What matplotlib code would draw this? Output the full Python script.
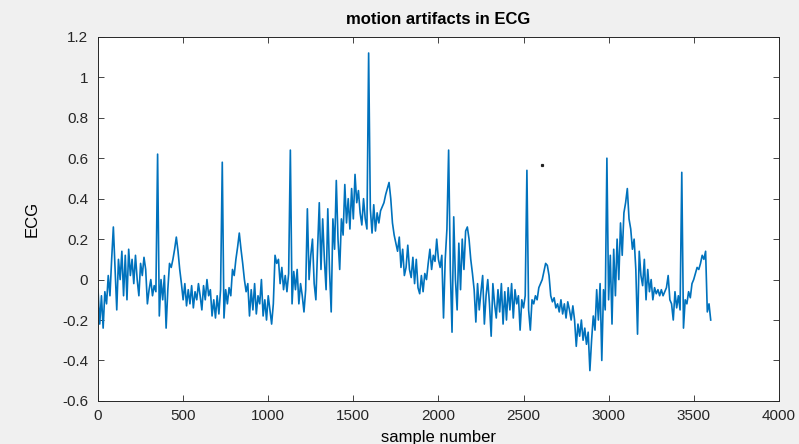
import numpy as np
import matplotlib
matplotlib.use("Agg")
import matplotlib.pyplot as plt
from matplotlib.ticker import FixedLocator, FixedFormatter

# ECG values, one every 10 samples (sample 0 .. 3600)
ecg_values = [
    # 0-90
    -0.05, -0.22, -0.08, -0.24, -0.06, -0.12, 0.02, -0.08, 0.10, 0.26,
    # 100-190
    0.05, -0.15, 0.10, 0.00, 0.14, -0.08, 0.12, -0.10, 0.15, 0.02,
    # 200-290
    0.10, -0.02, 0.12, 0.00, -0.08, 0.08, 0.02, 0.11, 0.05, -0.12,
    # 300-390
    -0.05, 0.00, -0.08, -0.03, -0.06, 0.62, -0.18, 0.00, -0.10, 0.02,
    # 400-490
    -0.24, -0.05, 0.08, 0.06, 0.10, 0.15, 0.21, 0.14, 0.05, -0.02,
    # 500-590
    -0.10, -0.02, -0.13, -0.05, -0.12, -0.03, -0.14, -0.06, -0.10, -0.02,
    # 600-690
    -0.08, -0.15, -0.03, -0.10, 0.00, -0.08, -0.05, -0.18, -0.10, -0.19,
    # 700-790
    -0.08, -0.17, -0.05, 0.58, -0.19, -0.05, -0.12, -0.04, -0.08, 0.05,
    # 800-890
    0.02, 0.10, 0.16, 0.23, 0.15, 0.08, 0.00, -0.06, -0.02, -0.18,
    # 900-990
    -0.05, -0.15, -0.02, -0.17, -0.08, -0.12, 0.00, -0.18, -0.10, -0.20,
    # 1000-1090
    -0.08, -0.15, -0.22, -0.12, 0.12, 0.08, 0.10, -0.02, 0.06, -0.05,
    # 1100-1190
    0.02, -0.06, 0.03, 0.64, -0.12, 0.04, -0.05, 0.05, -0.12, -0.02,
    # 1200-1290
    -0.08, -0.16, -0.05, 0.35, 0.00, 0.12, 0.20, -0.02, -0.10, 0.15,
    # 1300-1390
    0.38, 0.05, 0.30, 0.10, -0.05, 0.35, 0.05, -0.16, 0.30, 0.15,
    # 1400-1490
    0.49, 0.20, 0.05, 0.30, 0.22, 0.47, 0.28, 0.40, 0.25, 0.45,
    # 1500-1590
    0.30, 0.52, 0.38, 0.44, 0.33, 0.27, 0.40, 0.30, 0.25, 1.12,
    # 1600-1690
    0.35, 0.23, 0.37, 0.24, 0.33, 0.28, 0.34, 0.36, 0.38, 0.42,
    # 1700-1790
    0.45, 0.48, 0.40, 0.28, 0.22, 0.18, 0.14, 0.21, 0.06, 0.15,
    # 1800-1890
    0.02, 0.06, 0.17, 0.05, 0.01, 0.11, -0.02, 0.10, -0.04, -0.07,
    # 1900-1990
    0.02, -0.06, 0.03, 0.00, 0.08, 0.15, 0.05, 0.12, 0.09, 0.20,
    # 2000-2090
    0.10, 0.06, 0.12, -0.19, 0.10, 0.25, 0.64, 0.05, -0.26, 0.31,
    # 2100-2190
    0.00, -0.15, 0.18, -0.05, 0.20, 0.05, 0.24, 0.26, 0.20, 0.10,
    # 2200-2290
    0.03, -0.05, -0.21, -0.02, -0.15, -0.06, 0.02, -0.22, -0.08, 0.00,
    # 2300-2390
    -0.12, -0.28, -0.02, -0.12, -0.19, -0.05, -0.16, -0.02, -0.22, -0.06,
    # 2400-2490
    -0.20, -0.04, -0.15, -0.02, -0.19, -0.05, -0.12, -0.08, -0.25, -0.10,
    # 2500-2590
    -0.14, -0.08, 0.54, -0.15, -0.25, -0.10, -0.12, -0.08, -0.10, -0.04,
    # 2600-2690
    -0.02, 0.00, 0.04, 0.08, 0.07, 0.02, -0.08, -0.11, -0.09, -0.14,
    # 2700-2790
    -0.12, -0.16, -0.10, -0.17, -0.12, -0.19, -0.11, -0.15, -0.20, -0.13,
    # 2800-2890
    -0.20, -0.33, -0.22, -0.28, -0.20, -0.30, -0.24, -0.32, -0.26, -0.45,
    # 2900-2990
    -0.30, -0.18, -0.25, -0.05, -0.20, -0.02, -0.40, -0.05, -0.15, 0.60,
    # 3000-3090
    -0.10, 0.12, -0.22, 0.15, -0.08, 0.20, 0.00, 0.28, 0.12, 0.33,
    # 3100-3190
    0.38, 0.45, 0.30, 0.25, 0.15, 0.20, 0.05, -0.27, 0.14, 0.02,
    # 3200-3290
    -0.03, 0.10, -0.10, 0.05, -0.06, 0.00, -0.10, -0.04, -0.07, -0.05,
    # 3300-3390
    -0.08, -0.05, -0.08, -0.06, -0.04, 0.02, -0.10, -0.12, -0.20, -0.06,
    # 3400-3490
    -0.14, -0.08, -0.15, 0.53, -0.24, -0.10, -0.12, -0.06, -0.09, -0.02,
    # 3500-3590
    0.00, 0.03, 0.06, 0.05, 0.08, 0.12, 0.10, 0.14, -0.16, -0.12,
    # 3600
    -0.20,
]
sample_step = 10
stray_dot_x = [2610]
stray_dot_y = [0.565]

x_ticks = [0, 500, 1000, 1500, 2000, 2500, 3000, 3500, 4000]
y_ticks = [-0.6, -0.4, -0.2, 0, 0.2, 0.4, 0.6, 0.8, 1, 1.2]
y_tick_labels = ["-0.6", "-0.4", "-0.2", "0", "0.2", "0.4", "0.6", "0.8", "1", "1.2"]
x_tick_labels = [str(t) for t in x_ticks]

plt.rcParams['font.family'] = ['Liberation Sans', 'DejaVu Sans']

fig = plt.figure(figsize=(7.99, 4.44), dpi=100, facecolor='#f0f0f0')
ax = fig.add_axes([0.1227, 0.097, 0.852, 0.82])
ax.set_facecolor('white')

samples = np.arange(len(ecg_values)) * sample_step
ax.plot(samples, ecg_values, color='#0072BD', linewidth=1.2)
ax.plot(stray_dot_x, stray_dot_y, 's', color='#222222', markersize=1.3)

ax.set_xlim(0, 4000)
ax.set_ylim(-0.6, 1.2)
ax.xaxis.set_major_locator(FixedLocator(x_ticks))
ax.xaxis.set_major_formatter(FixedFormatter(x_tick_labels))
ax.yaxis.set_major_locator(FixedLocator(y_ticks))
ax.yaxis.set_major_formatter(FixedFormatter(y_tick_labels))

ax.tick_params(direction='in', length=4, width=0.6, top=True, right=True,
               labelsize=11, colors='#262626')
ax.tick_params(axis='x', pad=6)
ax.tick_params(axis='y', pad=7)
for s in ax.spines.values():
    s.set_color('#262626')
    s.set_linewidth(0.7)

ax.set_title('motion artifacts in ECG', fontsize=12, fontweight='bold', pad=9)
ax.set_xlabel('sample number', fontsize=12, labelpad=5)
ax.set_ylabel('ECG', fontsize=12, labelpad=16)

fig.savefig('out.png', dpi=100, facecolor=fig.get_facecolor())
